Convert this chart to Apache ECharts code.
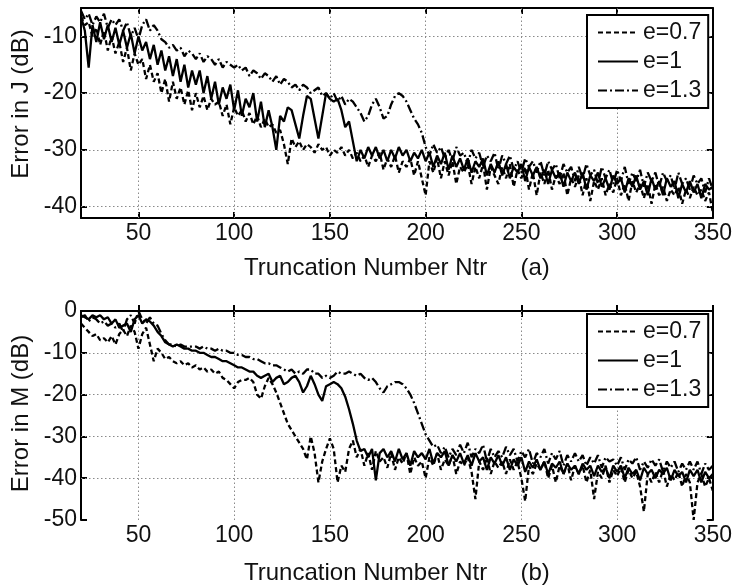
<!DOCTYPE html>
<html><head><meta charset="utf-8">
<script src="https://cdn.jsdelivr.net/npm/echarts@6/dist/echarts.min.js"></script>
<style>html,body{margin:0;padding:0;background:#fff}#c{width:735px;height:588px}</style>
</head><body><div id="c"></div>
<script>
// Truncation number grid (sampled every 2)
const ntr = [];
for (let x = 20; x <= 350; x += 2) ntr.push(x);

const xTicks = [50, 100, 150, 200, 250, 300, 350];
const yTicksJ = [-10, -20, -30, -40];
const yTicksM = [0, -10, -20, -30, -40, -50];
const seriesNames = ['e=0.7', 'e=1', 'e=1.3'];
const xTitle = ['Truncation Number Ntr     (a)', 'Truncation Number Ntr     (b)'];
const yTitle = ['Error in J (dB)', 'Error in M (dB)'];

// (a) Error in J
const j07 = [
-6.5,-8,-7.5,-10,-8.5,-11.5,-9,-12.5,-10,-13,
-11,-14.5,-12,-16,-13,-15,-14,-17.5,-15,-18,
-16.5,-20,-17.5,-21.5,-18,-21,-19,-22,-19.5,-23,
-20,-22.5,-20.5,-23,-21,-22,-21.5,-24,-22,-25.5,
-22.5,-24,-23,-25,-23.5,-25.5,-24,-26,-24.5,-26,
-25.5,-27,-26.5,-29,-32.5,-28,-29.5,-28.5,-30,-29,
-29.5,-30.5,-29,-30,-29.5,-31,-30,-30.5,-29.5,-31,
-30,-31.5,-30.5,-32,-31,-33,-31,-32,-30.5,-33.5,
-31.5,-33,-31,-34,-32,-33,-31.5,-34.5,-32,-35,
-38,-32,-34,-31.5,-35,-32,-34.5,-32,-36,-33,
-34,-32.5,-36,-33,-35,-32.5,-37,-33,-34.5,-36,
-33,-35,-32.5,-36.5,-33.5,-35,-33,-37,-34,-38,
-34,-36,-33.5,-37,-34.5,-36,-34,-38,-35,-36.5,
-34.5,-38,-35,-39,-35.5,-37,-35,-38,-36,-37.5,
-35,-38,-36,-39,-35.5,-37.5,-36,-38.5,-36,-39.5,
-36,-38,-36.5,-39,-37,-38,-36.5,-39.5,-37,-38.5,
-36.5,-38,-37,-39,-37.5,-41];
const j10 = [
-6.5,-9,-15.5,-8,-11,-7.5,-10.5,-8,-11,-8.5,
-11.5,-9,-12,-9.5,-13,-10,-12.5,-11,-14,-11.5,
-15,-12.5,-16,-13.5,-17,-14,-18,-15,-19,-16,
-18.5,-16,-20,-17,-21,-18,-22,-19,-21,-18.5,
-23,-19.5,-24,-21,-22.5,-20,-25,-21.5,-26,-23,
-26,-30,-24,-25,-22.5,-23,-25.5,-28,-24,-20.5,
-21,-24.5,-28,-24,-20,-21,-21.5,-21,-23,-26,
-25,-28.5,-32,-30,-31.5,-29.5,-31,-29.5,-31.5,-30,
-32,-30,-31.5,-29.5,-31,-30,-32,-30.5,-31.5,-30,
-32,-30.5,-33,-31,-32.5,-30.5,-33.5,-31,-33,-31.5,
-33.5,-31.5,-34,-32,-33,-31.5,-34.5,-32.5,-34,-32,
-34.5,-32.5,-35,-33,-34,-32.5,-35.5,-33,-34.5,-33,
-35,-33.5,-36,-33.5,-35,-34,-36.5,-34,-35.5,-34,
-36,-34,-37,-34.5,-35.5,-34,-36.5,-35,-37,-34.5,
-36,-35,-37.5,-35,-36.5,-34.5,-37,-35.5,-38,-35,
-37,-35.5,-38,-35,-36.5,-35.5,-38.5,-36,-37.5,-35.5,
-37.5,-36,-38.5,-36,-37,-36.5];
const j13 = [
-5.5,-7,-6,-8,-6.5,-7.5,-6,-8.5,-7,-8,
-7,-9,-7.5,-10,-8.5,-10.5,-8,-7,-9,-8,
-9,-10.5,-11,-12,-11.5,-12.5,-12,-13.5,-12.5,-13,
-14,-13,-14.5,-13.5,-14,-15,-14,-15.5,-14.5,-15,
-15.5,-15,-16,-15.5,-17,-16,-16.5,-17.5,-16.5,-17,
-18,-17,-18.5,-17.5,-18,-19,-18.5,-19.5,-18.5,-19,
-20,-19.5,-19,-20.5,-20,-21,-20,-21.5,-20.5,-22,
-21,-21.5,-22.5,-23.5,-25,-24,-22,-21,-22.5,-24.5,
-24,-22,-20.5,-20,-20.5,-21.5,-23,-24.5,-25.5,-27,
-29.5,-31,-29,-30.5,-29.5,-31.5,-30,-32,-29.5,-31,
-30.5,-32.5,-30,-31.5,-30.5,-33,-31,-32,-30.5,-33.5,
-31,-32.5,-31,-33.5,-32,-34,-31.5,-33,-32,-34,
-32,-34.5,-32,-33.5,-32.5,-35,-32.5,-34,-33,-35.5,
-33,-35,-32.5,-34.5,-33.5,-36,-33,-35,-33.5,-36,
-33.5,-35.5,-33,-36,-34,-35.5,-33.5,-36.5,-34,-35.5,
-34,-36.5,-34,-35.5,-34.5,-37,-34,-36,-35,-37,
-34.5,-36,-35,-37.5,-35,-37];

// (b) Error in M
const m07 = [
-3,-4,-5,-6,-5.5,-7,-6.5,-7.5,-6,-8,
-5.5,-4.5,-6,-3.5,-5,-9,-5.5,-4,-8,-12,
-9,-10,-11.5,-11,-12,-12.5,-12,-13,-12.5,-13.5,
-13,-14,-13.5,-14.5,-14,-15,-14.5,-16,-16.5,-17.5,
-18.5,-17,-16.5,-16.5,-16,-17,-20,-21,-18,-16,
-17.5,-19.5,-22,-24.5,-27,-28.5,-30,-31.5,-33,-35.5,
-30,-34,-41,-36,-33,-30.5,-33,-41,-37,-38.5,
-33,-31,-35,-33,-37,-34,-38,-33.5,-36,-35,
-37.5,-34,-38,-35,-36.5,-34,-39,-35,-37,-36,
-40,-35,-37,-34,-38,-35.5,-37,-34.5,-39,-36,
-37,-35,-38.5,-45,-36,-38,-35,-39,-36,-37.5,
-36,-39,-35.5,-38,-36,-40,-45.5,-37,-39,-36.5,
-38,-36,-40,-37,-41,-37,-39,-36.5,-40.5,-37,
-39,-37,-41,-38,-45,-38.5,-40,-37,-41,-38,
-39.5,-37.5,-41,-38,-40,-38.5,-42,-48,-39,-41,
-38.5,-41,-38,-42,-39,-40.5,-38.5,-42,-39,-41,
-50,-41,-39,-42,-40,-43];
const m10 = [
-1,-1.5,-2,-1,-1.5,-1,-2,-1.5,-3,-2,
-4,-3.5,-3,-5,-2,-1,-3,-2,-2.5,-3.5,
-5,-6,-7.5,-8,-8.5,-8,-8.5,-9,-9,-9.5,
-9.5,-10,-10,-10.5,-11,-11,-11.5,-12,-12,-12.5,
-13,-13.5,-13.5,-14,-14.5,-14.5,-15.5,-16,-15.5,-15,
-17,-16,-15.5,-17.5,-17,-16,-15.5,-17,-19.5,-18,
-15.5,-17.5,-20,-21.5,-18,-17.5,-17,-17.5,-18.5,-20.5,
-23.5,-27,-31,-33.5,-33,-35,-33,-40.5,-34,-33,
-35,-33.5,-36,-33,-35.5,-34,-37,-33.5,-35,-34,
-35.5,-33,-36.5,-34,-35,-33.5,-37,-34.5,-36,-34,
-36.5,-34.5,-37,-34,-36,-35,-38,-35,-36.5,-34.5,
-37,-35,-38,-35.5,-37,-35,-38.5,-36,-37.5,-35.5,
-38,-36,-39,-36.5,-37.5,-36,-39,-36.5,-38,-37,
-39,-36.5,-38,-37,-39.5,-37,-38.5,-37.5,-40,-37,
-38.5,-37,-40,-37.5,-39,-38,-40.5,-37.5,-39,-38,
-40,-38,-39,-37.5,-40.5,-38,-39.5,-38.5,-41,-38,
-39.5,-38,-41,-38.5,-40,-39];
const m13 = [
-1.5,-1,-2.5,-1.5,-2,-3,-2.5,-3.5,-3,-4,
-3,-5,-2,-1,-3,0,-2,-3,-1.5,-3,
-3.5,-5.5,-7,-8,-8,-8.5,-8,-8.5,-8.5,-8.5,
-8.5,-9,-8.5,-9,-9,-9.5,-9,-9.5,-9.5,-10,
-10,-10.5,-10.5,-11,-11,-11.5,-11.5,-12,-12.5,-12.5,
-13,-13,-13.5,-14,-14.5,-14,-15,-14.5,-15,-14,
-14,-15,-15,-16,-15.5,-16,-15.5,-14.5,-15,-15,
-14.5,-15,-15.5,-15,-16,-16.5,-16,-17,-18.5,-19.5,
-18,-17.5,-17,-17,-17.5,-18.5,-20,-22,-24.5,-27,
-29.5,-31,-32.5,-32,-34,-32.5,-35,-33,-34.5,-32,
-34,-31.5,-35,-33,-34,-32,-36,-33,-35,-33.5,
-35,-32.5,-34.5,-33,-36,-33.5,-35,-33,-36.5,-34,
-35,-33,-36.5,-34,-35.5,-33.5,-37,-34.5,-36,-34,
-36,-34.5,-37,-35,-36.5,-34.5,-37.5,-35,-36,-35.5,
-37,-35,-38,-35.5,-36.5,-35,-38,-36,-37.5,-35.5,
-37,-35.5,-38.5,-36,-37.5,-36,-38.5,-36.5,-38,-36,
-38,-36,-39,-36.5,-38,-37];

const FONT = '"Liberation Sans", Arial, Helvetica, sans-serif';
const TXT = '#111';
const lineTypes = [[5, 3], 'solid', [9, 3, 2, 3]];
const panels = [
  { data: [j07, j10, j13], yMin: -42, yMax: -5, yTicks: yTicksJ, top: 8, height: 210, legendTop: 15 },
  { data: [m07, m10, m13], yMin: -50, yMax: 0, yTicks: yTicksM, top: 311, height: 209, legendTop: 314 }
];

const grid = [], xAxis = [], yAxis = [], series = [], legend = [], graphic = [];
const axLine = { show: true, lineStyle: { color: '#000', width: 2 } };
panels.forEach((p, gi) => {
  grid.push({ left: 81, right: 21, top: p.top, height: p.height, containLabel: false });
  const base = {
    gridIndex: gi, type: 'value', min: 20, max: 350,
    axisLine: axLine, splitLine: { show: false },
    axisTick: { show: true, inside: true, length: 6, customValues: xTicks, lineStyle: { color: '#000', width: 2 } }
  };
  xAxis.push(Object.assign({}, base, {
    position: 'bottom',
    axisLabel: { show: true, customValues: xTicks, fontSize: 23, color: TXT, fontFamily: FONT, margin: 4 },
    name: xTitle[gi], nameLocation: 'middle', nameGap: gi === 0 ? 38 : 41,
    nameTextStyle: { fontSize: 24, color: TXT, fontFamily: FONT }
  }));
  xAxis.push(Object.assign({}, base, { position: 'top', axisLabel: { show: false } }));
  const ybase = {
    gridIndex: gi, type: 'value', min: p.yMin, max: p.yMax,
    axisLine: axLine, splitLine: { show: false },
    axisTick: { show: true, inside: true, length: 6, customValues: p.yTicks, lineStyle: { color: '#000', width: 2 } }
  };
  yAxis.push(Object.assign({}, ybase, {
    position: 'left',
    axisLabel: { show: true, customValues: p.yTicks, fontSize: 23, color: TXT, fontFamily: FONT, margin: 4 }
  }));
  yAxis.push(Object.assign({}, ybase, { position: 'right', axisLabel: { show: false } }));

  // dotted grid lines through the axis scales
  series.push({
    type: 'line', xAxisIndex: gi * 2, yAxisIndex: gi * 2, data: [], silent: true, z: 1,
    markLine: {
      silent: true, z: 1, symbol: ['none', 'none'], label: { show: false }, animation: false,
      lineStyle: { type: [1.5, 2.5], color: '#8a8a8a', width: 1 },
      emphasis: { disabled: true },
      data: xTicks.filter(v => v < 350).map(v => ({ xAxis: v }))
        .concat(p.yTicks.filter(v => v > p.yMin && v < p.yMax).map(v => ({ yAxis: v })))
    }
  });
  p.data.forEach((arr, si) => {
    series.push({
      name: seriesNames[si], type: 'line', xAxisIndex: gi * 2, yAxisIndex: gi * 2,
      data: ntr.map((x, i) => [x, arr[i]]), symbol: 'none', showSymbol: false, z: 3,
      lineStyle: { color: '#000', width: 2.3, type: lineTypes[si] },
      itemStyle: { color: '#000' }, emphasis: { disabled: true }
    });
  });
  legend.push({
    data: seriesNames, orient: 'vertical', left: 587, top: p.legendTop,
    itemWidth: 40, itemHeight: 14, itemGap: 0, selectedMode: false,
    backgroundColor: '#fff', borderColor: '#000', borderWidth: 2, borderRadius: 0,
    padding: [3, 7, 3, 10],
    textStyle: { fontSize: 23, color: TXT, fontFamily: FONT, lineHeight: 29 },
    lineStyle: { width: 2 },
    itemStyle: { color: 'transparent', borderColor: 'transparent', borderWidth: 0, opacity: 0 }
  });
  graphic.push({
    type: 'text', x: 21, y: p.top + p.height / 2 - (gi === 0 ? 9 : 2), rotation: Math.PI / 2, z: 100,
    style: { text: yTitle[gi], fontSize: 24, fontFamily: FONT, fill: TXT, align: 'center', verticalAlign: 'middle' }
  });
});

const chart = echarts.init(document.getElementById('c'), null, { renderer: 'canvas' });
chart.setOption({
  animation: false, backgroundColor: '#fff',
  grid, xAxis, yAxis, series, legend, graphic
});
</script></body></html>
